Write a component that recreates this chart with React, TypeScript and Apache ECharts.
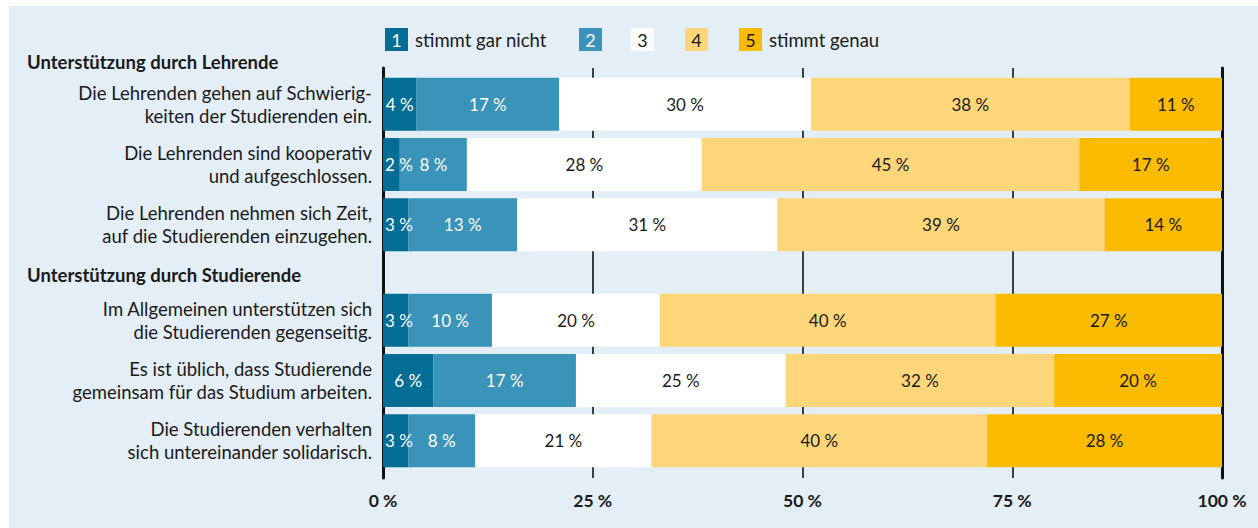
import React, { useEffect, useRef } from "react";
import * as echarts from "echarts";

// ---- data ----
const lehrendeStatements = [
  "Die Lehrenden gehen auf Schwierig-\nkeiten der Studierenden ein.",
  "Die Lehrenden sind kooperativ\nund aufgeschlossen.",
  "Die Lehrenden nehmen sich Zeit,\nauf die Studierenden einzugehen.",
];
const studierendeStatements = [
  "Im Allgemeinen unterstützen sich\ndie Studierenden gegenseitig.",
  "Es ist üblich, dass Studierende\ngemeinsam für das Studium arbeiten.",
  "Die Studierenden verhalten\nsich untereinander solidarisch.",
];
const groupHeadings = ["Unterstützung durch Lehrende", "Unterstützung durch Studierende"];

// values per answer level, in order: 3 Lehrende statements, then 3 Studierende statements
const level1 = [4, 2, 3, 3, 6, 3];
const level2 = [17, 8, 13, 10, 17, 8];
const level3 = [30, 28, 31, 20, 25, 21];
const level4 = [38, 45, 39, 40, 32, 40];
const level5 = [11, 17, 14, 27, 20, 28];

const levelNames = ["1", "2", "3", "4", "5"];
const levelCaptions = ["stimmt gar nicht", "", "", "", "stimmt genau"];
const levelColors = ["#036d95", "#3a93b8", "#ffffff", "#fed67a", "#fbbb00"];
const levelTextColors = ["#ffffff", "#ffffff", "#1a1a1a", "#1a1a1a", "#1a1a1a"];
const axisTicks = [0, 25, 50, 75, 100];

const FONT = "Lato, 'Open Sans', sans-serif";
const TEXT = "#1a1a1a";

export default function App() {
  const ref = useRef<HTMLDivElement>(null);

  useEffect(() => {
    if (!ref.current) return;
    const chart = echarts.init(ref.current, undefined, { renderer: "svg" });
    const levels = [level1, level2, level3, level4, level5];

    const grids = [
      { left: 383, right: 36, top: 74, height: 181 },
      { left: 383, right: 36, top: 290, height: 181 },
      { left: 383, right: 36, top: 68, bottom: 50 },
    ];

    const xAxes: any[] = [0, 1].map((g) => ({
      gridIndex: g,
      type: "value",
      min: 0,
      max: 100,
      show: false,
    }));
    xAxes.push({
      gridIndex: 2,
      type: "value",
      min: 0,
      max: 100,
      interval: 25,
      axisLine: { show: false },
      axisTick: { show: false },
      splitLine: { show: true, lineStyle: { color: "#111", width: 1.6 } },
      axisLabel: {
        formatter: (v: number) => (axisTicks.includes(v) ? `${v} %` : ""),
        fontFamily: FONT,
        fontWeight: "bold",
        fontSize: 17.5,
        color: TEXT,
        margin: 13,
      },
    });

    const yAxes: any[] = [lehrendeStatements, studierendeStatements].map((cats, g) => ({
      gridIndex: g,
      type: "category",
      inverse: true,
      data: cats,
      axisLine: { show: false },
      axisTick: { show: false },
      splitLine: { show: false },
      axisLabel: {
        fontFamily: FONT,
        fontSize: 18.5,
        color: TEXT,
        lineHeight: 23,
        align: "right",
        margin: 11,
      },
    }));
    yAxes.push({
      gridIndex: 2,
      type: "value",
      position: "left",
      axisLine: { show: true, lineStyle: { color: "#111", width: 3 } },
      axisTick: { show: false },
      axisLabel: { show: false },
      splitLine: { show: false },
    });
    yAxes.push({
      gridIndex: 2,
      type: "value",
      position: "right",
      axisLine: { show: true, lineStyle: { color: "#111", width: 3 } },
      axisTick: { show: false },
      axisLabel: { show: false },
      splitLine: { show: false },
    });

    const series: any[] = [];
    [0, 1].forEach((g) => {
      levels.forEach((vals, i) => {
        series.push({
          type: "bar",
          name: levelNames[i],
          xAxisIndex: g,
          yAxisIndex: g,
          stack: "g" + g,
          barWidth: 53,
          z: 3,
          data: vals.slice(g * 3, g * 3 + 3).map((v) =>
            i === 0 && v < 4
              ? { value: v, label: { position: "insideLeft", distance: 2 } }
              : v
          ),
          itemStyle: { color: levelColors[i] },
          label: {
            show: true,
            position: "inside",
            formatter: "{c} %",
            fontFamily: FONT,
            fontSize: 17,
            color: levelTextColors[i],
          },
        });
      });
    });

    // legend built from the level arrays
    const legendBoxX = [385, 579, 631, 685, 739];
    const legendEls: any[] = [];
    levelNames.forEach((n, i) => {
      legendEls.push({
        type: "rect",
        shape: { x: legendBoxX[i], y: 28, width: 23, height: 23 },
        style: { fill: levelColors[i] },
      });
      legendEls.push({
        type: "text",
        x: legendBoxX[i] + 11.5,
        y: 40,
        style: {
          text: n,
          fill: levelTextColors[i],
          font: `18px ${FONT}`,
          align: "center",
          verticalAlign: "middle",
        },
      });
      if (levelCaptions[i]) {
        legendEls.push({
          type: "text",
          x: legendBoxX[i] + 30,
          y: 40,
          style: {
            text: levelCaptions[i],
            fill: TEXT,
            font: `18.5px ${FONT}`,
            verticalAlign: "middle",
          },
        });
      }
    });

    chart.setOption({
      animation: false,
      backgroundColor: "#ffffff",
      grid: grids,
      xAxis: xAxes,
      yAxis: yAxes,
      series,
      graphic: [
        {
          type: "rect",
          z: -10,
          silent: true,
          shape: { x: 9, y: 6, width: 1260, height: 530 },
          style: { fill: "#e3eef6" },
        },
        {
          type: "text",
          x: 27,
          y: 62,
          style: { text: groupHeadings[0], fill: TEXT, font: `bold 18.5px ${FONT}`, verticalAlign: "middle" },
        },
        {
          type: "text",
          x: 27,
          y: 275,
          style: { text: groupHeadings[1], fill: TEXT, font: `bold 18.5px ${FONT}`, verticalAlign: "middle" },
        },
        ...legendEls,
      ],
    });

    return () => chart.dispose();
  }, []);

  return (
    <div
      ref={ref}
      style={{ position: "fixed", left: 0, top: 0, width: 1258, height: 528 }}
    />
  );
}
